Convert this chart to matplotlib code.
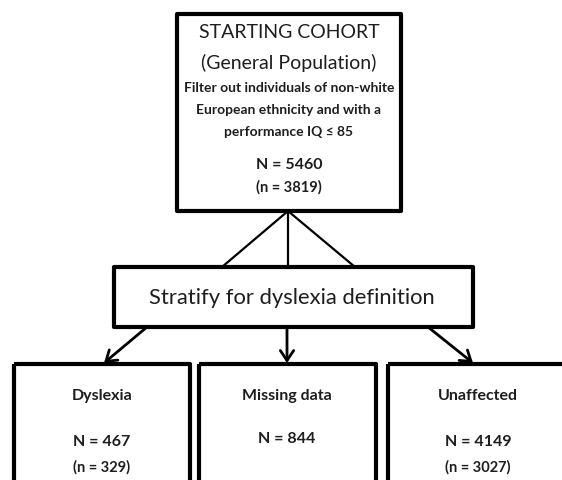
import matplotlib.pyplot as plt
from matplotlib.patches import Rectangle

plt.rcParams["font.family"] = ["Lato", "DejaVu Sans"]

# Flowchart content
cohort_title = ["STARTING COHORT", "(General Population)"]
cohort_filter = ["Filter out individuals of non-white",
                 "European ethnicity and with a",
                 "performance IQ \u2264 85"]
cohort_N = 5460
cohort_n = 3819
stratify_label = "Stratify for dyslexia definition"
groups = ["Dyslexia", "Missing data", "Unaffected"]
group_N = [467, 844, 4149]
group_n = [329, None, 3027]

txt = "#1e1e1e"

fig = plt.figure(figsize=(5.62, 4.80), dpi=100)
ax = fig.add_axes([0, 0, 1, 1])
ax.set_xlim(0, 562)
ax.set_ylim(480, 0)
ax.axis("off")

box_lw = 3.0
line_lw = 1.6

# top box
ax.add_patch(Rectangle((177, 14), 224, 197, fill=False, lw=box_lw, ec="black",
                       joinstyle="round"))
cx = 289
ax.text(cx, 33, cohort_title[0], ha="center", va="center", fontsize=14, color=txt)
ax.text(cx, 63, cohort_title[1], ha="center", va="center", fontsize=14, color=txt)
for i, line in enumerate(cohort_filter):
    ax.text(cx, 88 + i * 22, line, ha="center", va="center", fontsize=10,
            fontweight="bold", color=txt)
ax.text(cx, 165, f"N = {cohort_N}", ha="center", va="center", fontsize=11.5,
        fontweight="bold", color=txt)
ax.text(cx, 187, f"(n = {cohort_n})", ha="center", va="center", fontsize=10.5,
        fontweight="bold", color=txt)

# connectors top -> stratify
for xe in [222, 288, 355]:
    ax.plot([288, xe], [211, 267], color="black", lw=line_lw, solid_capstyle="butt")

# stratify box
ax.add_patch(Rectangle((114, 267), 359, 60, fill=False, lw=box_lw, ec="black",
                       joinstyle="round"))
ax.text(292, 298, stratify_label, ha="center", va="center", fontsize=15.8, color=txt)

# arrows stratify -> groups
arrows = [((147, 327), (104, 363)), ((287, 327), (287, 363)), ((428, 327), (473, 363))]
for (x0, y0), (x1, y1) in arrows:
    ax.annotate("", xy=(x1, y1), xytext=(x0, y0),
                arrowprops=dict(arrowstyle="->,head_length=0.45,head_width=0.3",
                                color="black", lw=line_lw + 0.4,
                                mutation_scale=16, shrinkA=0, shrinkB=0))

# group boxes
box_x = [14, 199, 388]
box_w = [176, 177, 185]
centers = [102, 287, 478]
for i, g in enumerate(groups):
    ax.add_patch(Rectangle((box_x[i], 364), box_w[i], 130, fill=False, lw=box_lw,
                           ec="black", joinstyle="round"))
    ax.text(centers[i], 396, g, ha="center", va="center", fontsize=11.5,
            fontweight="bold", color=txt)
    if group_n[i] is None:
        ax.text(centers[i], 439, f"N = {group_N[i]}", ha="center", va="center",
                fontsize=11.5, fontweight="bold", color=txt)
    else:
        ax.text(centers[i], 442, f"N = {group_N[i]}", ha="center", va="center",
                fontsize=11.5, fontweight="bold", color=txt)
        ax.text(centers[i], 467, f"(n = {group_n[i]})", ha="center", va="center",
                fontsize=10.5, fontweight="bold", color=txt)

fig.savefig("out.png", dpi=100, facecolor="white")
